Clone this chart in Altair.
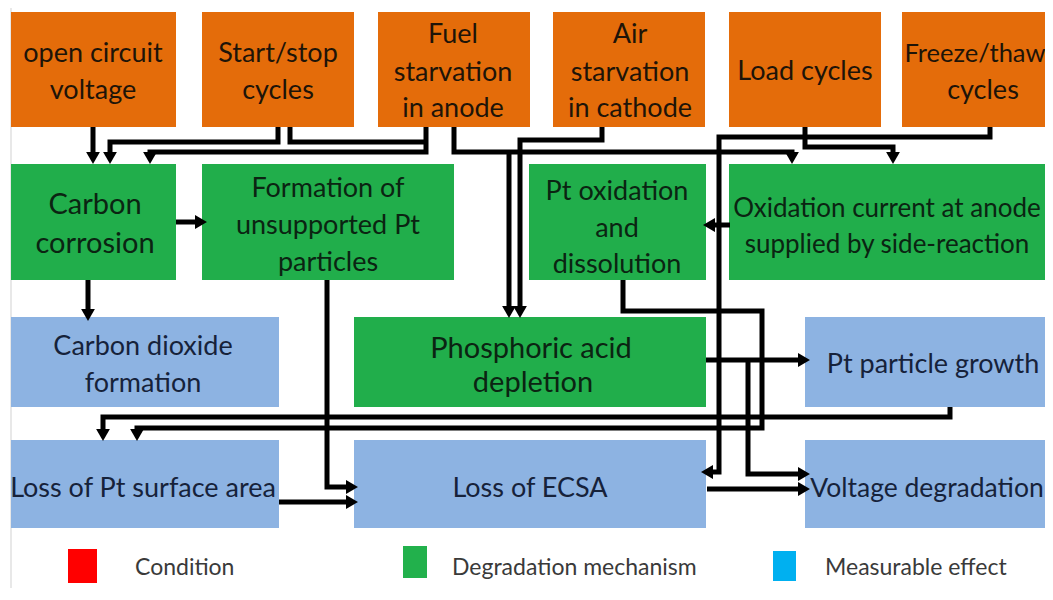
import altair as alt
import pandas as pd

# ---------------- boxes ----------------
box_kind = ["condition"] * 6 + ["mechanism"] * 4 + ["effect", "mechanism", "effect", "effect", "effect", "effect"]
box_x1 = [11, 202, 378, 553, 729, 902, 11, 202, 529, 729, 11, 354, 805, 11, 354, 805]
box_x2 = [176, 354, 530, 705, 881, 1070, 176, 454, 706, 1070, 279, 706, 1070, 279, 706, 1070]
box_y1 = [12, 12, 12, 12, 12, 12, 164, 164, 164, 164, 317, 317, 317, 440, 440, 440]
box_y2 = [127, 127, 127, 127, 127, 127, 280, 280, 280, 280, 407, 407, 407, 528, 528, 528]

# ---------------- text lines ----------------
line_text = [
    "open circuit", "voltage", "Start/stop", "cycles",
    "Fuel", "starvation", "in anode", "Air", "starvation", "in cathode",
    "Load cycles", "Freeze/thaw", "cycles",
    "Carbon", "corrosion", "Formation of", "unsupported Pt", "particles",
    "Pt oxidation", "and", "dissolution",
    "Oxidation current at anode", "supplied by side-reaction",
    "Carbon dioxide", "formation", "Phosphoric acid", "depletion",
    "Pt particle growth", "Loss of Pt surface area", "Loss of ECSA", "Voltage degradation",
]
line_kind = (["condition"] * 11 + ["cond_edge", "condition"] + ["big"] * 2 + ["mechanism"] * 6
             + ["mech_edge"] * 2 + ["effect"] * 2 + ["bigmech"] * 2 + ["effect"] * 3 + ["eff_edge"])
line_x = [93, 93, 278, 278, 453, 453, 453, 630, 630, 630, 805, 975, 983,
          95, 95, 328, 328, 328, 617, 617, 617, 887, 887,
          143, 143, 531, 533, 933, 143, 530, 927]
line_y = [52, 89, 52, 89, 33, 71, 107, 33, 71, 107, 70, 52, 89,
          203, 242, 187, 224, 261, 190, 227, 263, 207, 243,
          345, 382, 347, 381, 363, 487, 487, 487]

# ---------------- connectors ----------------
paths = {
    "ocv_cc": ([93, 93], [127, 164], True),
    "ss_cc": ([278, 278, 110, 110], [127, 142, 142, 164], True),
    "ss_join": ([290, 290, 426], [127, 142, 142], False),
    "fuel_cc": ([426, 426, 150, 150], [127, 152, 152, 164], True),
    "fuel_oc": ([454, 454, 792, 792], [127, 152, 152, 164], True),
    "fuel_pa": ([509, 509], [152, 318], True),
    "air_pa": ([602, 602, 520, 520], [127, 140, 140, 318], True),
    "load_oc": ([805, 805, 893, 893], [127, 147, 147, 164], True),
    "freeze_ecsa": ([990, 990, 719, 719, 701], [127, 137, 137, 472, 472], True),
    "oc_pt": ([730, 703], [225, 225], True),
    "cc_form": ([176, 207], [222, 222], True),
    "cc_co2": ([88, 88], [280, 321], True),
    "form_ecsa": ([327, 327, 358], [280, 487, 487], True),
    "ptox_loss": ([623, 623, 762, 762, 137, 137], [280, 311, 311, 428, 428, 441], True),
    "grow_loss": ([950, 950, 103, 103], [407, 417, 417, 441], True),
    "pa_grow": ([706, 810], [360, 360], True),
    "pa_volt": ([748, 748, 810], [360, 474, 474], True),
    "loss_ecsa": ([279, 358], [502, 502], True),
    "ecsa_volt": ([707, 810], [489, 489], True),
}

# ---------------- legend ----------------
legend_text = ["Condition", "Degradation mechanism", "Measurable effect"]
legend_kind = ["lg_red", "lg_green", "lg_blue"]
legend_x1 = [68, 403, 773]
legend_x2 = [97, 427, 796]
legend_y1 = [549, 546, 551]
legend_y2 = [583, 578, 581]
legend_tx = [135, 452, 825]
legend_ty = [567, 567, 567]

# ---------------- styles ----------------
FILL = {"condition": "#E46C0A", "mechanism": "#21AE4B", "effect": "#8DB3E2",
        "lg_red": "#FF0000", "lg_green": "#22B14C", "lg_blue": "#00B0F0"}
TCOL = {"condition": "#1E1408", "cond_edge": "#1E1408", "big": "#0B2412", "mechanism": "#0B2412",
        "mech_edge": "#0B2412", "bigmech": "#0B2412", "effect": "#16223A", "eff_edge": "#16223A"}
TSIZE = {"condition": 27, "cond_edge": 25.5, "big": 29, "mechanism": 27, "mech_edge": 26,
         "bigmech": 29, "effect": 27, "eff_edge": 26.5}
SHAPE = {"down": "triangle-down", "up": "triangle-up", "left": "triangle-left", "right": "triangle-right"}

# ---------------- build tables ----------------
boxes = pd.DataFrame({"kind": box_kind + legend_kind, "x1": box_x1 + legend_x1,
                      "x2": box_x2 + legend_x2, "y1": box_y1 + legend_y1,
                      "y2": box_y2 + legend_y2})
boxes["fill"] = boxes["kind"].map(FILL)

texts = pd.DataFrame({"t": line_text, "kind": line_kind, "x": line_x, "y": line_y})
texts["col"] = texts["kind"].map(TCOL)
texts["sz"] = texts["kind"].map(TSIZE)
legend_df = pd.DataFrame({"t": legend_text, "x": legend_tx, "y": legend_ty})

HEAD = 6  # distance from arrowhead centre to its tip
rows = []
heads = []
for pid, (pxs, pys, arrow) in paths.items():
    pxs = list(pxs)
    pys = list(pys)
    if arrow:
        dx = pxs[-1] - pxs[-2]
        dy = pys[-1] - pys[-2]
        ux = (dx > 0) - (dx < 0)
        uy = (dy > 0) - (dy < 0)
        tipx, tipy = pxs[-1], pys[-1]
        pxs[-1] = tipx - ux * HEAD
        pys[-1] = tipy - uy * HEAD
        if uy > 0:
            d = "down"
        elif uy < 0:
            d = "up"
        elif ux > 0:
            d = "right"
        else:
            d = "left"
        heads.append({"x": tipx - ux * HEAD, "y": tipy - uy * HEAD, "shape": SHAPE[d]})
    for i, (px, py) in enumerate(zip(pxs, pys)):
        rows.append({"pid": pid, "o": i, "x": px, "y": py})
lines = pd.DataFrame(rows)
heads = pd.DataFrame(heads)

W, H = 1037, 580
xs = alt.Scale(domain=[8, 8 + W], nice=False, zero=False)
ys = alt.Scale(domain=[8, 8 + H], reverse=True, nice=False, zero=False)

X = lambda f: alt.X(f, scale=xs, axis=None)
Y = lambda f: alt.Y(f, scale=ys, axis=None)

border = alt.Chart(pd.DataFrame({"x": [11], "y1": [8], "y2": [588]})).mark_rule(
    color="#d9d9d9", strokeWidth=1.2
).encode(x=X("x:Q"), y=Y("y1:Q"), y2="y2:Q")

box_layer = alt.Chart(boxes).mark_rect(clip=True).encode(
    x=X("x1:Q"), x2="x2:Q", y=Y("y1:Q"), y2="y2:Q",
    color=alt.Color("fill:N", scale=None),
)

line_layer = alt.Chart(lines).mark_line(
    color="black", strokeWidth=5, strokeCap="butt", strokeJoin="miter", clip=True
).encode(x=X("x:Q"), y=Y("y:Q"), detail="pid:N", order="o:Q")

head_layer = alt.Chart(heads).mark_point(
    filled=True, color="black", opacity=1, size=190, strokeWidth=0
).encode(x=X("x:Q"), y=Y("y:Q"), shape=alt.Shape("shape:N", scale=None))

text_layer = alt.Chart(texts).mark_text(
    font="Lato", align="center", baseline="middle", dy=2, clip=True
).encode(
    x=X("x:Q"), y=Y("y:Q"), text="t:N",
    color=alt.Color("col:N", scale=None),
    size=alt.Size("sz:Q", scale=None),
)

legend_text_layer = alt.Chart(legend_df).mark_text(
    font="Lato", align="left", baseline="middle", dy=1, fontSize=23, color="#3A3A3A"
).encode(x=X("x:Q"), y=Y("y:Q"), text="t:N")

chart = alt.layer(
    border, box_layer, line_layer, head_layer, text_layer, legend_text_layer
).properties(
    width=W, height=H, padding=0, autosize=alt.AutoSizeParams(type="none"), background="white"
).configure_view(strokeWidth=0)

chart.save("out.html", embed_options={"renderer": "svg", "actions": False})
